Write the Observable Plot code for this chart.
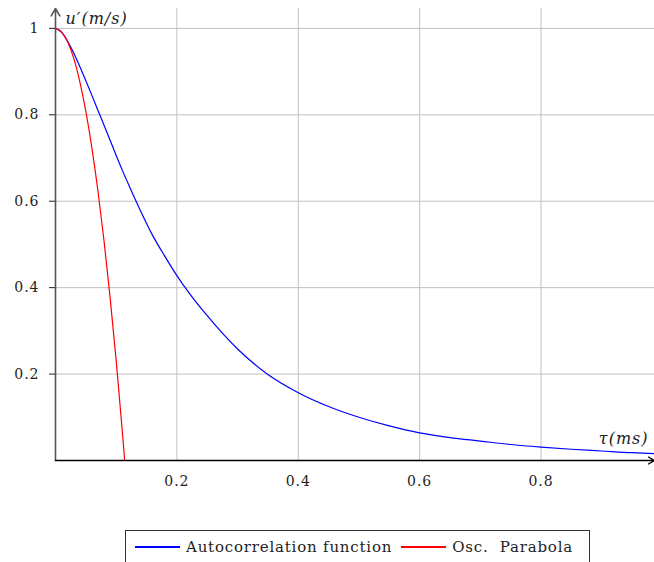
<!DOCTYPE html>
<html>
<head>
<meta charset="utf-8">
<script src="https://cdn.jsdelivr.net/npm/d3@7"></script>
<script src="https://cdn.jsdelivr.net/npm/@observablehq/plot@0.6"></script>
<style>
  body { margin: 0; background: #fff; font-family: 'DejaVu Serif'; }
  #legend { margin-left: 125px; margin-top: 30px; width: 465px; height: 34px; border: 1px solid #333; box-sizing: border-box; display: flex; align-items: center; font-family: 'DejaVu Serif'; font-size: 15px; letter-spacing: 0.8px; color: #222; }
  .sw { display: inline-block; width: 45px; height: 1.2px; margin: 0 6px 0 9px; }
  #chart svg text { font-family: 'DejaVu Serif' !important; }
</style>
</head>
<body>
<div id="chart"></div>
<div id="legend">
  <span class="sw" style="background:#0000ff"></span><span>Autocorrelation function</span>
  <span class="sw" style="background:#ff0000"></span><span>Osc.&nbsp; Parabola</span>
</div>
<script>
const tauAuto = [0, 0.01, 0.02, 0.03, 0.04, 0.05, 0.06, 0.07, 0.08, 0.09, 0.1, 0.11, 0.12, 0.14, 0.16, 0.18, 0.2, 0.22, 0.25, 0.3, 0.35, 0.4, 0.45, 0.5, 0.55, 0.6, 0.65, 0.7, 0.75, 0.8, 0.85, 0.9, 0.95, 0.987];
const uAuto   = [1, 0.991, 0.97, 0.943, 0.912, 0.879, 0.845, 0.81, 0.776, 0.741, 0.706, 0.672, 0.64, 0.578, 0.521, 0.473, 0.428, 0.388, 0.335, 0.258, 0.199, 0.157, 0.125, 0.1, 0.08, 0.064, 0.053, 0.045, 0.037, 0.031, 0.026, 0.022, 0.018, 0.016];
const tauPar  = [0, 0.01, 0.02, 0.03, 0.04, 0.05, 0.06, 0.07, 0.08, 0.09, 0.1, 0.11, 0.114];
const uPar    = [1, 0.992, 0.969, 0.931, 0.877, 0.808, 0.723, 0.623, 0.508, 0.377, 0.231, 0.069, 0];
const xTicks = [0.2, 0.4, 0.6, 0.8];
const yTicks = [0.2, 0.4, 0.6, 0.8, 1];
const xDomain = [0, 0.987];
const yDomain = [0, 1.046];

const auto = tauAuto.map((t, i) => ({t, u: uAuto[i]}));
const par = tauPar.map((t, i) => ({t, u: uPar[i]}));
const fmt = d => d === 1 ? "1" : d3.format(".1f")(d);

const chart = Plot.plot({
  width: 654,
  height: 500,
  marginLeft: 55,
  marginRight: 0,
  marginTop: 8,
  marginBottom: 40,
  style: { fontFamily: "'DejaVu Serif'", fontSize: "14px", color: "#222", letterSpacing: "1px" },
  x: { domain: xDomain, ticks: xTicks, tickFormat: fmt, label: null, tickSize: 0, tickPadding: 16 },
  y: { domain: yDomain, ticks: yTicks, tickFormat: fmt, label: null, tickSize: 6, tickPadding: 10 },
  marks: [
    Plot.gridX(xTicks, { stroke: "#c0c0c0", strokeOpacity: 1 }),
    Plot.gridY(yTicks, { stroke: "#c0c0c0", strokeOpacity: 1 }),
    Plot.line(auto, { x: "t", y: "u", stroke: "#0000ff", strokeWidth: 1.2, curve: "monotone-x" }),
    Plot.line(par, { x: "t", y: "u", stroke: "#ff0000", strokeWidth: 1.2, curve: "monotone-x" }),
    Plot.arrow([{x1: xDomain[0], y1: 0, x2: xDomain[0], y2: yDomain[1]}], { x1: "x1", y1: "y1", x2: "x2", y2: "y2", stroke: "#555", strokeWidth: 1.6, headLength: 8 }),
    Plot.arrow([{x1: xDomain[0], y1: 0, x2: xDomain[1], y2: 0}], { x1: "x1", y1: "y1", x2: "x2", y2: "y2", stroke: "#000", strokeWidth: 1.3, headLength: 8 }),
    Plot.text(["u′(m/s)"], { frameAnchor: "top-left", dx: 10, dy: 4, fontStyle: "italic", fontSize: 16, fill: "#222", textAnchor: "start", style: "letter-spacing:1.8px" }),
    Plot.text(["τ(ms)"], { frameAnchor: "bottom-right", dx: -6, dy: -17, fontStyle: "italic", fontSize: 16, fill: "#222", textAnchor: "end" })
  ]
});
document.getElementById("chart").appendChild(chart);
</script>
</body>
</html>
